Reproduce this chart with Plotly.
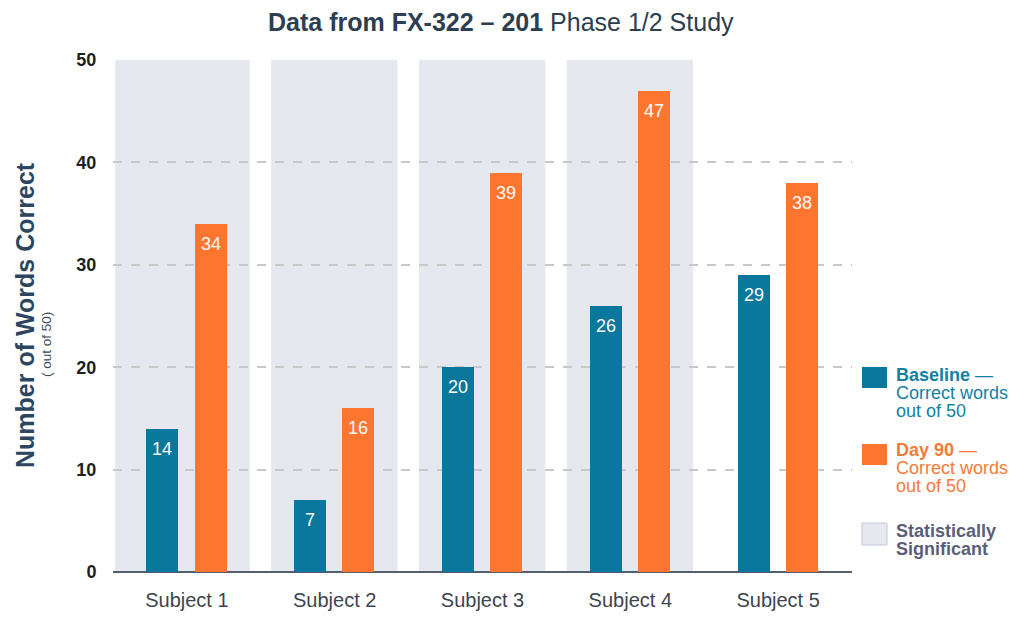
import plotly.graph_objects as go

subjects = ["Subject 1", "Subject 2", "Subject 3", "Subject 4", "Subject 5"]
baseline = [14, 7, 20, 26, 29]
day90 = [34, 16, 39, 47, 38]
significant = [True, True, True, True, False]
y_ticks = [0, 10, 20, 30, 40, 50]

BLUE = "#0a779c"
ORANGE = "#fc7630"
SHADE = "#e6e8f0"
DARK = "#2c3e50"
FONT = "Liberation Sans, Arial, sans-serif"

# page offset (body margin) and plot area in screen pixels
OFF = 8
PX0, PX1, PY0, PY1 = 113, 852, 60, 572
W, H = 1031, 617


def px(x):
    return (x - PX0) / (PX1 - PX0)


def py(y):
    return (PY1 - y) / (PY1 - PY0)


idx = list(range(len(subjects)))
BW = 0.217
OFF_B = -0.274
OFF_D = 0.052

fig = go.Figure()
fig.add_trace(go.Bar(x=idx, y=baseline, width=BW, offset=OFF_B,
                     marker=dict(color=BLUE, line=dict(width=0)), name="Baseline"))
fig.add_trace(go.Bar(x=idx, y=day90, width=BW, offset=OFF_D,
                     marker=dict(color=ORANGE, line=dict(width=0)), name="Day 90"))

# shaded significance bands
for i, sig in enumerate(significant):
    if sig:
        x0 = i - 0.43 if i > 0 else -0.485
        fig.add_shape(type="rect", xref="x", yref="y", x0=x0, x1=i + 0.425,
                      y0=0, y1=max(y_ticks), fillcolor=SHADE, line=dict(width=0),
                      layer="below")

# value labels inside bars
for i in idx:
    fig.add_annotation(x=i + OFF_B + BW / 2, y=baseline[i], yshift=-20, text=str(baseline[i]),
                       showarrow=False, font=dict(family=FONT, size=18, color="#fbfbfb"))
    fig.add_annotation(x=i + OFF_D + BW / 2, y=day90[i], yshift=-20, text=str(day90[i]),
                       showarrow=False, font=dict(family=FONT, size=18, color="#fbfbfb"))

# title
fig.add_annotation(xref="paper", yref="paper", x=px(501), y=py(22), xanchor="center",
                   yanchor="middle", showarrow=False,
                   text="<b>Data from FX-322 – 201</b> Phase 1/2 Study",
                   font=dict(family=FONT, size=25, color=DARK))

# y-axis titles
fig.add_annotation(xref="paper", yref="paper", x=px(25), y=py(315), xanchor="center",
                   yanchor="middle", textangle=-90,
                   showarrow=False, text="<b>Number of Words Correct</b>",
                   font=dict(family=FONT, size=25, color="#2d4660"))
fig.add_annotation(xref="paper", yref="paper", x=px(46), y=py(345), xanchor="center",
                   yanchor="middle", textangle=-90,
                   showarrow=False, text="( out of 50)",
                   font=dict(family=FONT, size=13.5, color="#3a4a5c"))

# custom legend: (swatch colour, swatch top, swatch bottom, lines, text colour)
legend_items = [
    (BLUE, 367, 388, [("<b>Baseline</b> —", 375), ("Correct words", 393), ("out of 50", 411)], "#1580a3"),
    (ORANGE, 444, 465, [("<b>Day 90</b> —", 450), ("Correct words", 468), ("out of 50", 486)], "#f47a3a"),
    (SHADE, 523, 545, [("<b>Statistically</b>", 531), ("<b>Significant</b>", 549)], "#5a5e78"),
]
for col, s0, s1, lines, tcol in legend_items:
    fig.add_shape(type="rect", xref="paper", yref="paper",
                  x0=px(862), x1=px(887), y0=py(s1), y1=py(s0),
                  fillcolor=col,
                  line=dict(width=1 if col == SHADE else 0, color="#c4c8d6"))
    for txt, ly in lines:
        fig.add_annotation(xref="paper", yref="paper", x=px(894), y=py(ly),
                           xanchor="left", yanchor="middle",
                           align="left", showarrow=False, text=txt,
                           font=dict(family=FONT, size=18, color=tcol))

fig.update_layout(
    width=W, height=H,
    margin=dict(l=PX0 - OFF, r=W - (PX1 - OFF), t=PY0 - OFF, b=H - (PY1 - OFF)),
    paper_bgcolor="white", plot_bgcolor="white",
    showlegend=False,
    bargap=0,
    xaxis=dict(range=[-0.5, len(subjects) - 0.5], tickvals=idx, ticktext=subjects,
               showgrid=False, zeroline=False, showline=False,
               ticks="outside", ticklen=10, tickcolor="rgba(0,0,0,0)",
               tickfont=dict(family=FONT, size=20, color="#3e4450")),
    yaxis=dict(range=[0, 50], tickvals=y_ticks,
               ticktext=[f"<b>{v}</b>" for v in y_ticks],
               showgrid=True, gridcolor="#c8c8c8", griddash="dash", gridwidth=1.5,
               zeroline=True, zerolinecolor="#555d70", zerolinewidth=1.5,
               showline=False, ticks="outside", ticklen=12, tickcolor="rgba(0,0,0,0)",
               tickfont=dict(family=FONT, size=18, color="#1e1e1e")),
)

fig.write_html("out.html")
